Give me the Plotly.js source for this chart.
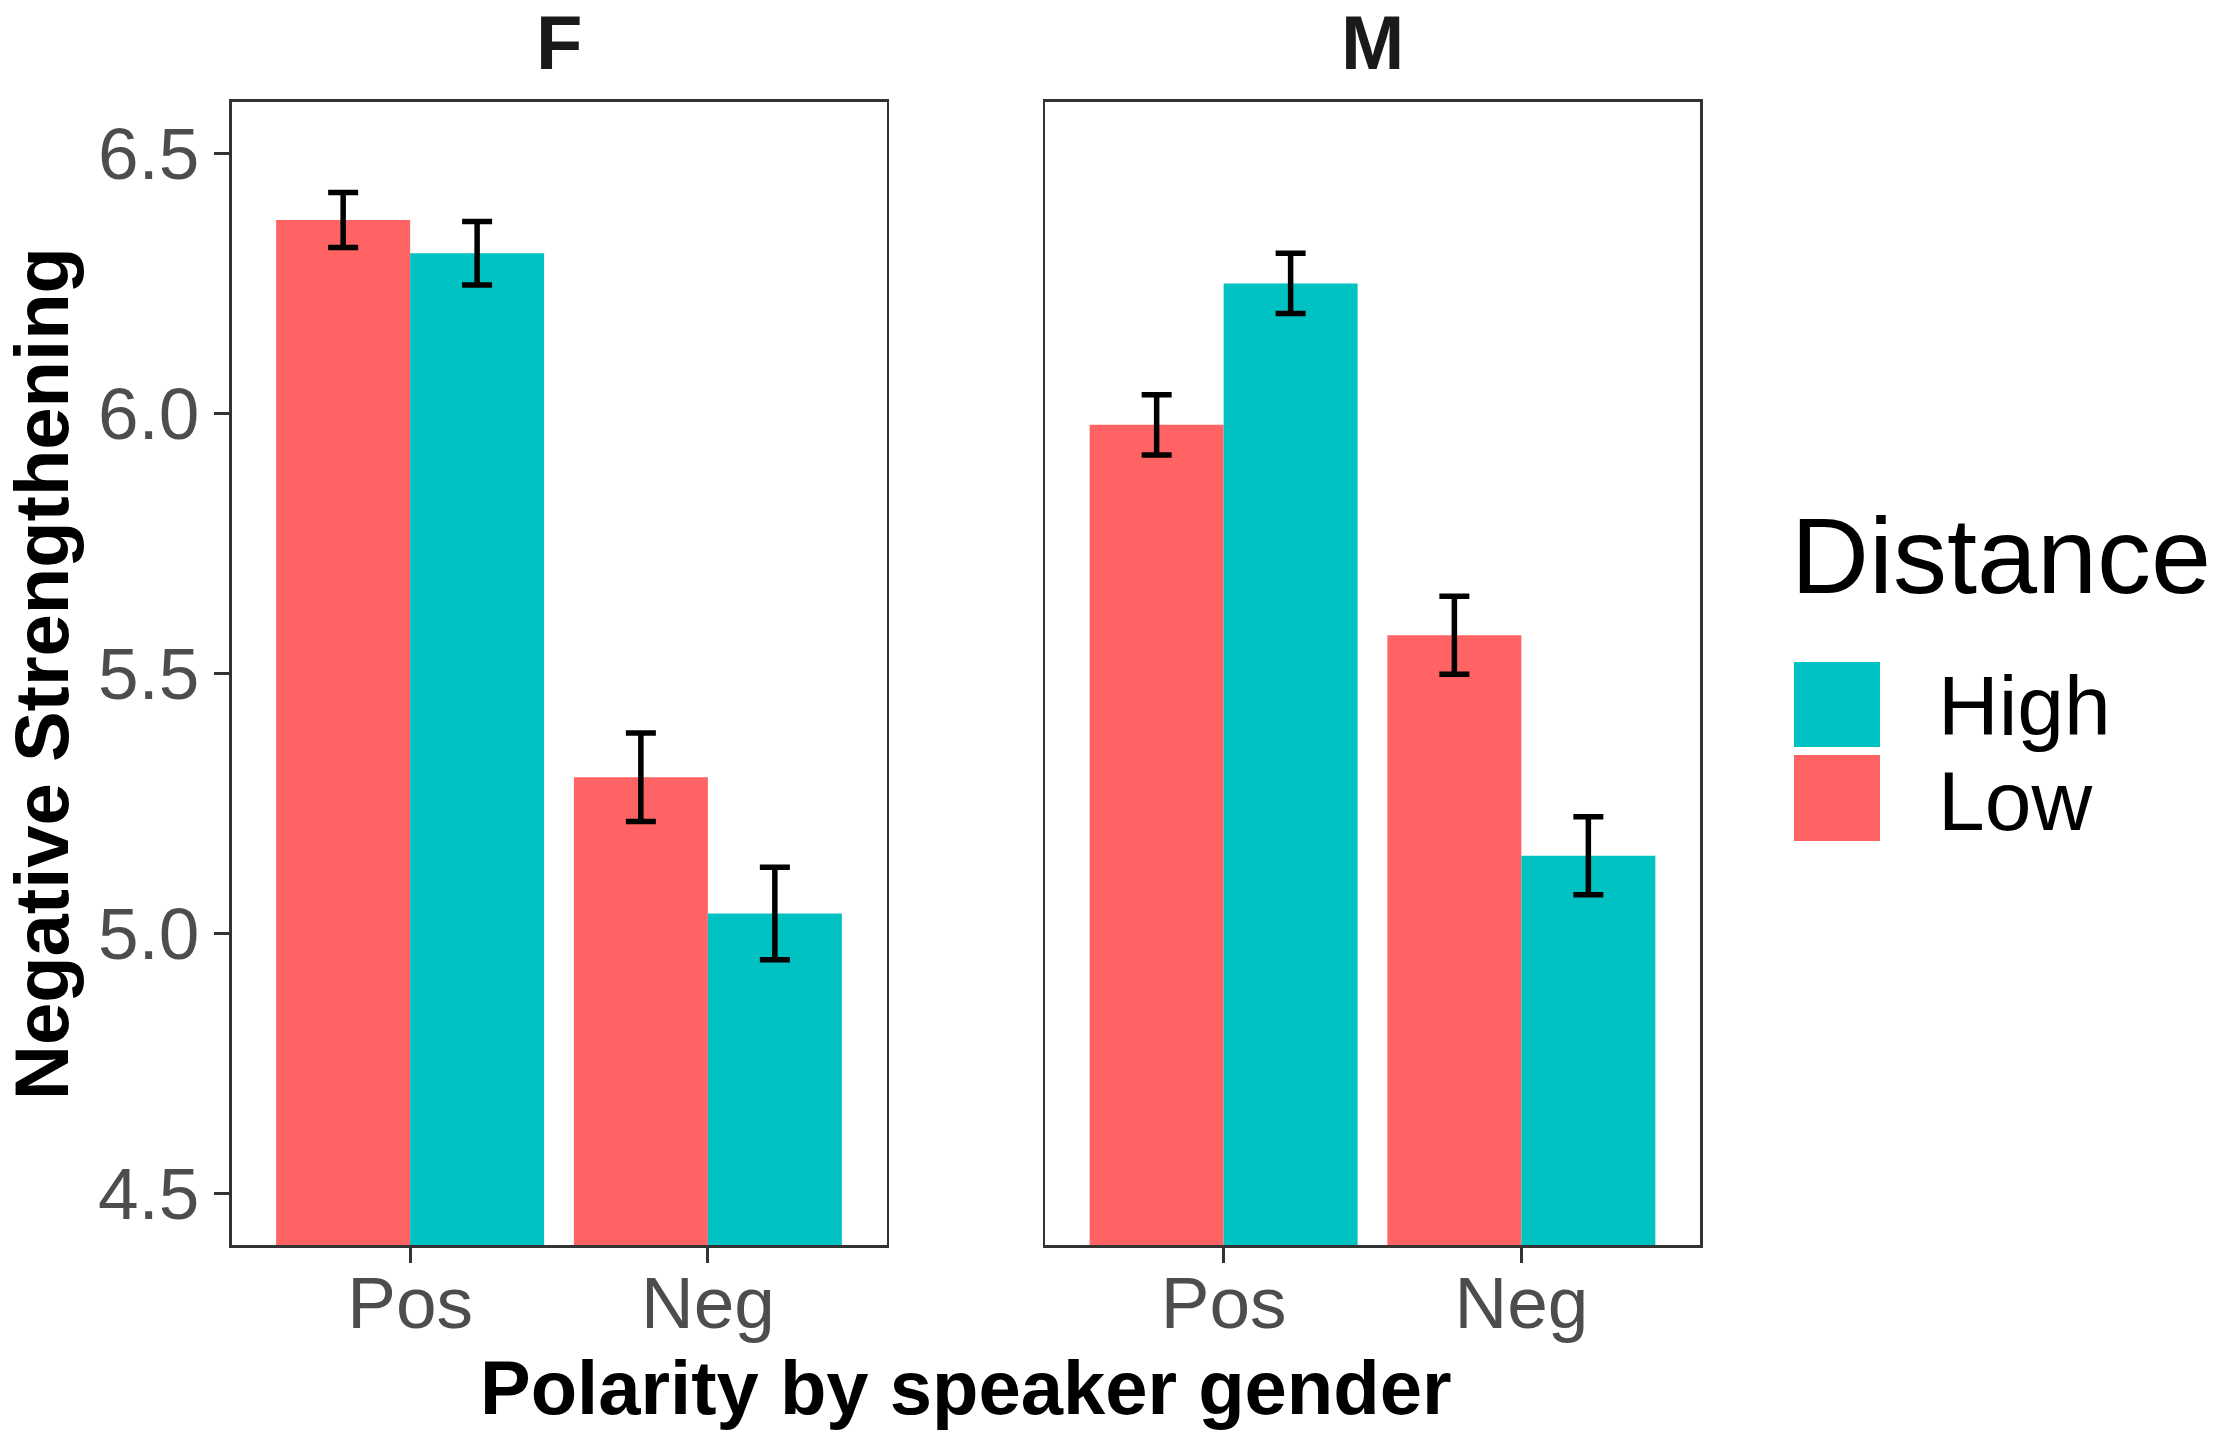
<!DOCTYPE html>
<html>
<head>
<meta charset="utf-8">
<script src="https://cdn.plot.ly/plotly-3.0.1.min.js"></script>
<style>html,body{margin:0;padding:0;background:#fff;}#chart{width:2217px;height:1447px;}</style>
</head>
<body>
<div id="chart"></div>
<script>
// ---- data ----
var categories = ['Pos', 'Neg'];
var facets = ['F', 'M'];
var distanceLevels = ['Low', 'High'];
var F_low = [6.372, 5.300];
var F_high = [6.308, 5.038];
var F_low_se = [0.053, 0.085];
var F_high_se = [0.061, 0.089];
var M_low = [5.978, 5.573];
var M_high = [6.250, 5.149];
var M_low_se = [0.058, 0.075];
var M_high_se = [0.058, 0.075];
var yTicks = [4.5, 5.0, 5.5, 6.0, 6.5];

var colors = {Low: '#FF6363', High: '#00C2C2'};
var W = 2217, H = 1447;
function px(x) { return x / W; }
function py(y) { return 1 - y / H; }

var font = '"Liberation Sans", Arial, Helvetica, sans-serif';

function barTrace(vals, se, level, xa, ya) {
  return {
    type: 'bar', x: categories, y: vals, name: level,
    xaxis: xa, yaxis: ya, showlegend: false,
    marker: {color: colors[level], line: {width: 0}},
    error_y: {type: 'data', array: se, visible: true, color: '#000000', thickness: 5.5, width: 15}
  };
}

var data = [
  barTrace(F_low, F_low_se, 'Low', 'x', 'y'),
  barTrace(F_high, F_high_se, 'High', 'x', 'y'),
  barTrace(M_low, M_low_se, 'Low', 'x2', 'y2'),
  barTrace(M_high, M_high_se, 'High', 'x2', 'y2')
];

var tickFont = {family: font, size: 73, color: '#4D4D4D'};
var frameColor = '#333333';

function xAxis(dom, anchor) {
  return {
    domain: dom, anchor: anchor, type: 'category', range: [-0.6, 1.6],
    showline: true, mirror: true, linecolor: frameColor, linewidth: 2.5,
    ticks: 'outside', ticklen: 15, tickwidth: 3, tickcolor: frameColor,
    ticklabelstandoff: -22,
    tickfont: tickFont, showgrid: false, zeroline: false, fixedrange: true
  };
}

var yDom = [py(1245), py(101.5)];
var layout = {
  width: W, height: H,
  margin: {l: 0, r: 0, t: 0, b: 0},
  paper_bgcolor: '#ffffff', plot_bgcolor: '#ffffff',
  barmode: 'group', bargap: 0.1, bargroupgap: 0,
  showlegend: false,
  font: {family: font},
  xaxis: xAxis([px(231.5), px(886.5)], 'y'),
  xaxis2: xAxis([px(1045), px(1700)], 'y2'),
  yaxis: {
    domain: yDom, anchor: 'x', range: [4.4, 6.6],
    tickmode: 'array', tickvals: yTicks, ticktext: yTicks.map(function (v) { return v.toFixed(1); }),
    showline: true, mirror: true, linecolor: frameColor, linewidth: 2.5,
    ticks: 'outside', ticklen: 15, tickwidth: 3, tickcolor: frameColor,
    tickfont: tickFont, showgrid: false, zeroline: false, fixedrange: true
  },
  yaxis2: {
    domain: yDom, anchor: 'x2', range: [4.4, 6.6], matches: 'y',
    showticklabels: false, ticks: '',
    showline: true, mirror: true, linecolor: frameColor, linewidth: 2.5,
    showgrid: false, zeroline: false, fixedrange: true
  },
  annotations: [
    {text: '<b>' + facets[0] + '</b>', xref: 'paper', yref: 'paper', x: px(559), y: py(42.7), xanchor: 'center', yanchor: 'middle', showarrow: false, font: {family: font, size: 76, color: '#1A1A1A'}},
    {text: '<b>' + facets[1] + '</b>', xref: 'paper', yref: 'paper', x: px(1372.5), y: py(42.7), xanchor: 'center', yanchor: 'middle', showarrow: false, font: {family: font, size: 76, color: '#1A1A1A'}},
    {text: '<b>Polarity by speaker gender</b>', xref: 'paper', yref: 'paper', x: px(966), y: py(1387), xanchor: 'center', yanchor: 'middle', showarrow: false, font: {family: font, size: 76, color: '#000000'}},
    {text: '<b>Negative Strengthening</b>', xref: 'paper', yref: 'paper', x: px(41), y: py(674), xanchor: 'center', yanchor: 'middle', textangle: -90, showarrow: false, font: {family: font, size: 76, color: '#000000'}},
    {text: 'Distance', xref: 'paper', yref: 'paper', x: px(1789), y: py(555.6), xanchor: 'left', yanchor: 'middle', showarrow: false, font: {family: font, size: 108, color: '#000000'}},
    {text: 'High', xref: 'paper', yref: 'paper', x: px(1936), y: py(705.9), xanchor: 'left', yanchor: 'middle', showarrow: false, font: {family: font, size: 84, color: '#000000'}},
    {text: 'Low', xref: 'paper', yref: 'paper', x: px(1936), y: py(800.9), xanchor: 'left', yanchor: 'middle', showarrow: false, font: {family: font, size: 84, color: '#000000'}}
  ],
  shapes: [
    {type: 'rect', xref: 'paper', yref: 'paper', x0: px(1794), x1: px(1880), y0: py(747), y1: py(662), fillcolor: colors.High, line: {width: 0}},
    {type: 'rect', xref: 'paper', yref: 'paper', x0: px(1794), x1: px(1880), y0: py(841), y1: py(755), fillcolor: colors.Low, line: {width: 0}}
  ]
};

Plotly.newPlot('chart', data, layout, {staticPlot: true, displayModeBar: false});
</script>
</body>
</html>
